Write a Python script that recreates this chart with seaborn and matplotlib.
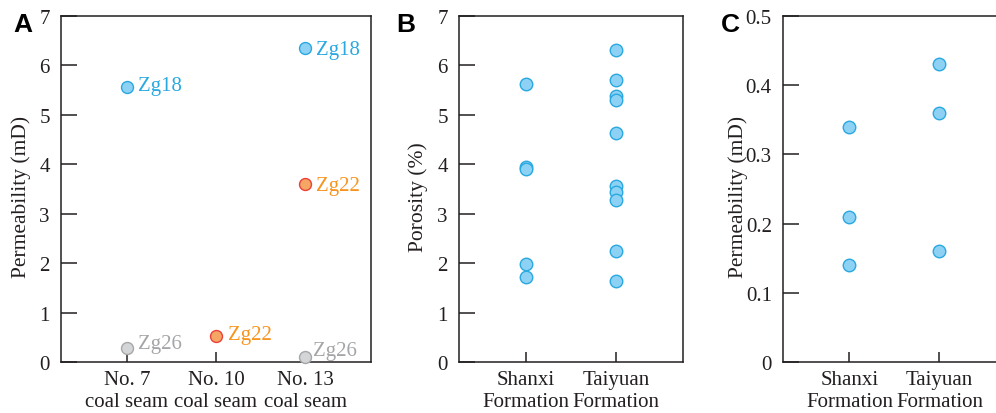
import matplotlib
matplotlib.use("Agg")
import matplotlib.pyplot as plt
import seaborn as sns
import pandas as pd

# ------------------------------------------------------
# Data
# ------------------------------------------------------
seams = ["No. 7\ncoal seam", "No. 10\ncoal seam", "No. 13\ncoal seam"]
a_seam = ["No. 7\ncoal seam", "No. 7\ncoal seam", "No. 10\ncoal seam",
          "No. 13\ncoal seam", "No. 13\ncoal seam", "No. 13\ncoal seam"]
a_sample = ["Zg18", "Zg26", "Zg22", "Zg18", "Zg22", "Zg26"]
a_perm = [5.57, 0.29, 0.52, 6.35, 3.60, 0.10]

formations = ["Shanxi\nFormation", "Taiyuan\nFormation"]
shanxi_por = [5.63, 3.95, 3.90, 1.99, 1.72]
taiyuan_por = [6.32, 5.71, 5.38, 5.30, 4.63, 3.57, 3.44, 3.27, 2.25, 1.63]
shanxi_perm = [0.34, 0.21, 0.14]
taiyuan_perm = [0.43, 0.36, 0.16]

# colours per sample: (fill, edge, text)
sample_cols = {"Zg18": ("#8DD1F4", "#29A9E0", "#29A9E0"),
               "Zg22": ("#F5A564", "#EC4038", "#F7941D"),
               "Zg26": ("#D4D5D6", "#A5A7AA", "#A3A5A8")}
# label offsets in points (dx, dy)
a_offsets = [(8, 1), (8, 3), (9, 1), (8, -1), (8, -1), (6, 5)]

blue_fill, blue_edge = "#8DD1F4", "#29A9E0"
ink = "#231F20"

sns.set_style("white")
plt.rcParams["font.family"] = ["Liberation Serif", "DejaVu Serif"]
plt.rcParams["text.color"] = ink
plt.rcParams["axes.labelcolor"] = ink
plt.rcParams["xtick.bottom"] = True
plt.rcParams["ytick.left"] = True

df_a = pd.DataFrame({"seam": a_seam, "sample": a_sample, "perm": a_perm})
df_b = pd.DataFrame({"fm": [formations[0]] * len(shanxi_por) + [formations[1]] * len(taiyuan_por),
                     "por": shanxi_por + taiyuan_por})
df_c = pd.DataFrame({"fm": [formations[0]] * len(shanxi_perm) + [formations[1]] * len(taiyuan_perm),
                     "perm": shanxi_perm + taiyuan_perm})

fig = plt.figure(figsize=(9.96, 4.14), dpi=100)
axA = fig.add_axes([0.0612, 0.1232, 0.3112, 0.8357])
axB = fig.add_axes([0.4608, 0.1232, 0.2249, 0.8357])
axC = fig.add_axes([0.7861, 0.1232, 0.2239, 0.8357])


def style_axis(ax, ncat, ylim, yticks, yticklabels, ylabel, label_x):
    ax.set_xlim(-0.74, ncat - 1 + 0.74)
    ax.set_ylim(ylim)
    ax.set_yticks(yticks, yticklabels)
    ax.tick_params(axis="y", which="major", direction="in", length=11.5, width=1.1, pad=8,
                   left=True, right=False, labelsize=15, color=ink, labelcolor=ink)
    ax.tick_params(axis="x", which="major", direction="in", length=7.5, width=1.1, pad=6,
                   bottom=True, top=False, labelsize=15, color=ink, labelcolor=ink)
    for s in ax.spines.values():
        s.set_linewidth(1.1)
        s.set_color(ink)
        s.set_visible(True)
    ax.set_xlabel("")
    ax.set_ylabel(ylabel, fontsize=15.5)
    ax.yaxis.set_label_coords(label_x, 0.48)
    for coll in ax.collections:
        coll.set_clip_on(False)
        coll.set_zorder(3)


# Panel A
for smp in ["Zg18", "Zg22", "Zg26"]:
    fill, edge, _ = sample_cols[smp]
    sns.stripplot(data=df_a[df_a["sample"] == smp], x="seam", y="perm", order=seams,
                  jitter=False, color=fill, edgecolor=edge, linewidth=1, size=8.6, ax=axA)
for seam, smp, val, (dx, dy) in zip(a_seam, a_sample, a_perm, a_offsets):
    axA.annotate(smp, xy=(seams.index(seam), val), xytext=(dx, dy), textcoords="offset points",
                 ha="left", va="center", fontsize=15, color=sample_cols[smp][2])
style_axis(axA, 3, (0, 7), range(8), [str(i) for i in range(8)], "Permeability (mD)", -0.097)

# Panel B
sns.stripplot(data=df_b, x="fm", y="por", order=formations, jitter=False,
              color=blue_fill, edgecolor=blue_edge, linewidth=1, size=9, ax=axB)
style_axis(axB, 2, (0, 7), range(8), [str(i) for i in range(8)], "Porosity (%)", -0.138)

# Panel C
sns.stripplot(data=df_c, x="fm", y="perm", order=formations, jitter=False,
              color=blue_fill, edgecolor=blue_edge, linewidth=1, size=9, ax=axC)
style_axis(axC, 2, (0, 0.5), [0, 0.1, 0.2, 0.3, 0.4, 0.5],
           ["0", "0.1", "0.2", "0.3", "0.4", "0.5"], "Permeability (mD)", -0.157)

# Panel letters
for letter, x in [("A", 0.013), ("B", 0.3976), ("C", 0.7239)]:
    fig.text(x, 0.9227, letter, fontsize=19, fontweight="bold", va="baseline", ha="left",
             family=["Liberation Sans", "DejaVu Sans"], color="black")

fig.savefig("out.png", dpi=100)
